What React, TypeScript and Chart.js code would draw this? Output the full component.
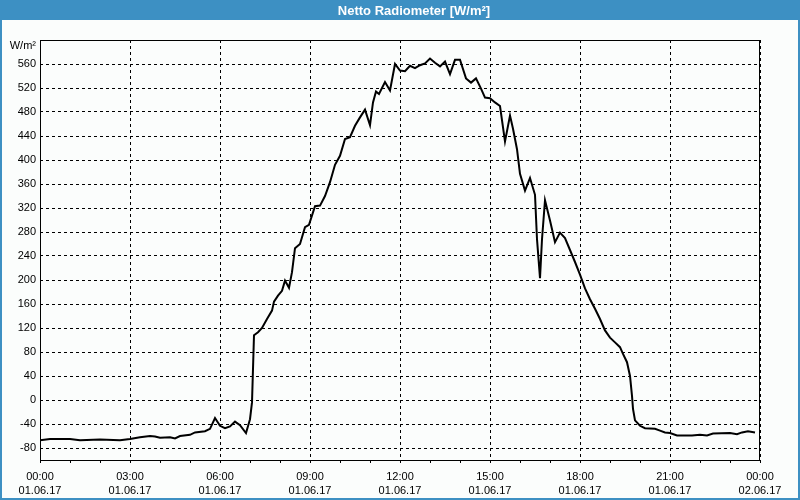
import React, { useEffect, useRef } from 'react';
import { Chart, registerables } from 'chart.js';

Chart.register(...registerables);

const titleText = 'Netto Radiometer [W/m²]';
const unitLabel = 'W/m²';

const times = [
  '00:00', '00:20', '01:00', '01:20', '02:00', '02:40', '03:00', '03:20', '03:40', '03:50',
  '04:00', '04:20', '04:30', '04:40', '05:00', '05:10', '05:30', '05:40', '05:50', '06:00',
  '06:10', '06:20', '06:30', '06:40', '06:52', '07:00', '07:04', '07:08', '07:16', '07:24',
  '07:34', '07:44', '07:48', '07:56', '08:04', '08:10', '08:18', '08:24', '08:30', '08:40',
  '08:50', '08:58', '09:10', '09:20', '09:30', '09:40', '09:50', '10:00', '10:10', '10:20',
  '10:30', '10:40', '10:50', '11:00', '11:06', '11:12', '11:18', '11:30', '11:40', '11:50',
  '12:00', '12:10', '12:20', '12:30', '12:40', '12:50', '13:00', '13:10', '13:20', '13:30',
  '13:40', '13:50', '14:00', '14:12', '14:22', '14:32', '14:42', '14:50', '15:00', '15:10',
  '15:20', '15:30', '15:40', '15:46', '15:54', '16:00', '16:10', '16:20', '16:30', '16:34',
  '16:40', '16:44', '16:50', '17:00', '17:10', '17:20', '17:30', '17:40', '17:50', '18:00',
  '18:10', '18:20', '18:30', '18:40', '18:50', '19:00', '19:10', '19:20', '19:26', '19:34',
  '19:40', '19:44', '19:46', '19:50', '20:00', '20:10', '20:30', '20:40', '20:50', '21:00',
  '21:14', '21:44', '22:00', '22:14', '22:26', '23:00', '23:14', '23:24', '23:36', '23:50',
];

const values = [
  -67, -65, -65, -67, -66, -67, -65, -62, -60, -61,
  -63, -62, -64, -60, -58, -54, -52, -48, -30, -43,
  -47, -44, -36, -42, -55, -32, -4, 108, 113, 120,
  135, 149, 164, 174, 182, 199, 187, 213, 253, 260,
  288, 292, 323, 324, 340, 363, 392, 407, 435, 438,
  457, 471, 484, 458, 496, 514, 510, 530, 516, 560,
  549, 548, 557, 553, 558, 561, 569, 562, 556, 564,
  543, 567, 567, 536, 529, 536, 519, 504, 503, 496,
  490, 431, 474, 452, 418, 377, 349, 370, 342, 268,
  203, 268, 333, 299, 263, 279, 270, 250, 230, 209,
  186, 168, 152, 135, 116, 104, 96, 88, 77, 63,
  40, 7, -15, -34, -43, -47, -48, -51, -54, -55,
  -59, -59, -58, -59, -56, -55, -57, -54, -52, -54,
];

const yTickValues = [-80, -40, 0, 40, 80, 120, 160, 200, 240, 280, 320, 360, 400, 440, 480, 520, 560];
const xHourTicks = [0, 1, 2, 3, 4, 5, 6, 7, 8, 9, 10, 11, 12, 13, 14, 15, 16, 17, 18, 19, 20, 21, 22, 23, 24];
const xTimeLabels = ['00:00', '03:00', '06:00', '09:00', '12:00', '15:00', '18:00', '21:00', '00:00'];
const xDateLabels = ['01.06.17', '01.06.17', '01.06.17', '01.06.17', '01.06.17', '01.06.17', '01.06.17', '01.06.17', '02.06.17'];

const FONT = "'Liberation Sans', Arial, sans-serif";

function toHours(t: string): number {
  const [h, m] = t.split(':').map(Number);
  return h + m / 60;
}

const framePlugin = {
  id: 'frame',
  beforeDraw(chart: any) {
    const { ctx, width, height } = chart;
    ctx.save();
    ctx.fillStyle = '#fbfdfc';
    ctx.fillRect(0, 0, width, height);
    ctx.fillStyle = '#3d90c3';
    ctx.fillRect(0, 0, width, 20);
    ctx.fillRect(0, 0, 2, height);
    ctx.fillRect(width - 2, 0, 2, height);
    ctx.fillRect(0, height - 2, width, 2);
    ctx.fillStyle = '#ffffff';
    ctx.font = `bold 13px ${FONT}`;
    ctx.textAlign = 'center';
    ctx.textBaseline = 'middle';
    ctx.fillText(titleText, 414, 11);
    ctx.fillStyle = '#000000';
    ctx.font = `11px ${FONT}`;
    ctx.textAlign = 'right';
    ctx.fillText(unitLabel, 36, 46);
    ctx.restore();
  },
  afterDraw(chart: any) {
    const { ctx, chartArea } = chart;
    ctx.save();
    ctx.strokeStyle = '#000000';
    ctx.lineWidth = 1;
    ctx.strokeRect(chartArea.left + 0.5, chartArea.top + 0.5, chartArea.right - chartArea.left - 1, chartArea.bottom - chartArea.top);
    ctx.restore();
  },
};

export default function App() {
  const canvasRef = useRef<HTMLCanvasElement | null>(null);

  useEffect(() => {
    document.body.style.margin = '0';
    const canvas = canvasRef.current;
    if (!canvas) return;
    const chart = new Chart(canvas, {
      type: 'line',
      data: {
        datasets: [
          {
            data: times.map((t, i) => ({ x: toHours(t), y: values[i] })),
            borderColor: '#000000',
            borderWidth: 2,
            pointRadius: 0,
            tension: 0,
            fill: false,
          },
        ],
      },
      options: {
        animation: false,
        responsive: false,
        events: [],
        layout: { padding: { left: 0, right: 40, top: 40, bottom: 0 } },
        plugins: {
          legend: { display: false },
          title: { display: false },
          tooltip: { enabled: false },
        },
        scales: {
          x: {
            type: 'linear',
            min: 0,
            max: 24,
            afterBuildTicks: (scale: any) => {
              scale.ticks = xHourTicks.map((v) => ({ value: v }));
            },
            afterFit: (scale: any) => {
              scale.height = 40;
            },
            ticks: {
              autoSkip: false,
              maxRotation: 0,
              minRotation: 0,
              color: '#000000',
              padding: 7,
              font: { family: FONT, size: 11, lineHeight: 14 / 11 },
              callback: (v: any) => {
                const n = Number(v);
                if (n % 3 !== 0) return '';
                const idx = n / 3;
                return [xTimeLabels[idx], xDateLabels[idx]];
              },
            },
            grid: {
              color: (ctx: any) => (ctx.tick && ctx.tick.value % 3 === 0 ? '#000000' : 'rgba(0,0,0,0)'),
              tickColor: '#000000',
              tickLength: 3,
              tickWidth: 1,
              tickBorderDash: [],
              lineWidth: 1,
            },
            border: { display: false, dash: [3, 3] },
          },
          y: {
            type: 'linear',
            min: -100,
            max: 600,
            afterBuildTicks: (scale: any) => {
              scale.ticks = yTickValues.map((v) => ({ value: v }));
            },
            afterFit: (scale: any) => {
              scale.width = 40;
            },
            ticks: {
              color: '#000000',
              padding: 4,
              font: { family: FONT, size: 11 },
              callback: (v: any) => String(v),
            },
            grid: {
              color: '#000000',
              drawTicks: false,
              lineWidth: 1,
            },
            border: { display: false, dash: [3, 3] },
          },
        },
      },
      plugins: [framePlugin],
    });
    return () => chart.destroy();
  }, []);

  return (
    <div style={{ width: 800, height: 500 }}>
      <canvas ref={canvasRef} width={800} height={500} style={{ display: 'block' }} />
    </div>
  );
}
